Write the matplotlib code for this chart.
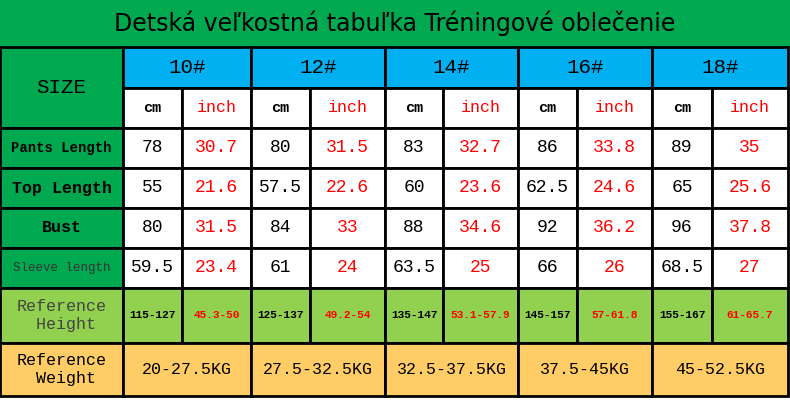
import matplotlib
matplotlib.use("Agg")
import matplotlib.pyplot as plt
from matplotlib.patches import Rectangle

title = "Detská veľkostná tabuľka Tréningové oblečenie"
sizes = ["10#", "12#", "14#", "16#", "18#"]
row_labels = ["Pants Length", "Top Length", "Bust", "Sleeve length"]
cm_vals = [[78, 80, 83, 86, 89],
           [55, 57.5, 60, 62.5, 65],
           [80, 84, 88, 92, 96],
           [59.5, 61, 63.5, 66, 68.5]]
inch_vals = [[30.7, 31.5, 32.7, 33.8, 35],
             [21.6, 22.6, 23.6, 24.6, 25.6],
             [31.5, 33, 34.6, 36.2, 37.8],
             [23.4, 24, 25, 26, 27]]
height_cm = ["115-127", "125-137", "135-147", "145-157", "155-167"]
height_in = ["45.3-50", "49.2-54", "53.1-57.9", "57-61.8", "61-65.7"]
weights = ["20-27.5KG", "27.5-32.5KG", "32.5-37.5KG", "37.5-45KG", "45-52.5KG"]

GREEN = "#00A84F"; BLUE = "#00B0F0"; LGREEN = "#92D050"; ORANGE = "#FFCC66"
FONT = "Liberation Mono"

fig = plt.figure(figsize=(7.9, 4.0), dpi=100)
ax = fig.add_axes([0, 0, 1, 1])
ax.set_xlim(0, 790); ax.set_ylim(400, 0); ax.axis("off")

def cell(x0, x1, y0, y1, fc, text="", color="black", size=12, lw=2, **kw):
    ax.add_patch(Rectangle((x0, y0), x1 - x0, y1 - y0, facecolor=fc, edgecolor="black", lw=lw))
    if text:
        ax.text((x0 + x1) / 2, (y0 + y1) / 2, text, ha="center", va="center",
                color=color, fontsize=size, family=FONT, **kw)

def fmt(v):
    return str(v)

ax.add_patch(Rectangle((0, 0), 790, 47, facecolor=GREEN, edgecolor="none"))
ax.text(395, 23, title, ha="center", va="center", fontsize=17, family="DejaVu Sans")

gx = [123, 251, 385, 518, 652, 788]
cx = [182, 310, 443, 577, 712]
rows_y = [128, 168, 208, 248, 288]

cell(0, 123, 47, 128, GREEN, "SIZE", size=15)
for i, s in enumerate(sizes):
    cell(gx[i], gx[i + 1], 47, 88, BLUE, s, size=15)
    cell(gx[i], cx[i], 88, 128, "white", "cm", size=11, weight="bold")
    cell(cx[i], gx[i + 1], 88, 128, "white", "inch", color="red", size=12)

for r, lab in enumerate(row_labels):
    y0, y1 = rows_y[r], rows_y[r + 1]
    fs = [10, 12, 12, 9][r]
    cell(0, 123, y0, y1, GREEN, lab, size=fs, weight="bold" if r < 3 else "normal",
         color="black" if r < 3 else "#333333")
    for i in range(5):
        cell(gx[i], cx[i], y0, y1, "white", fmt(cm_vals[r][i]), size=13)
        cell(cx[i], gx[i + 1], y0, y1, "white", fmt(inch_vals[r][i]), color="red", size=13)

cell(0, 123, 288, 343, LGREEN, "Reference\n Height", color="#444444", size=12)
for i in range(5):
    cell(gx[i], cx[i], 288, 343, LGREEN, height_cm[i], size=8, weight="bold")
    cell(cx[i], gx[i + 1], 288, 343, LGREEN, height_in[i], color="red", size=8, weight="bold")

cell(0, 123, 343, 396, ORANGE, "Reference\n Weight", size=12)
for i in range(5):
    cell(gx[i], gx[i + 1], 343, 396, ORANGE, weights[i], size=12)

fig.savefig("out.png", dpi=100)
